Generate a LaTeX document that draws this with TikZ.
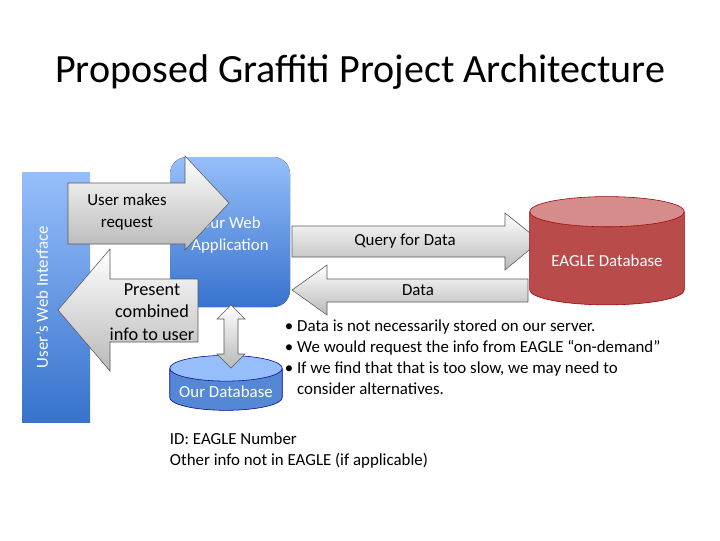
\documentclass[tikz,border=0pt]{standalone}
\usepackage{fontspec}
\setmainfont{Carlito}
\usetikzlibrary{shapes.geometric}
\definecolor{blutop}{RGB}{150,190,250}
\definecolor{blubot}{RGB}{55,115,205}
\definecolor{redtop}{RGB}{215,140,140}
\definecolor{redbot}{RGB}{185,75,75}
\tikzset{
  blubox/.style={top color=blutop, bottom color=blubot, draw=none},
  grayarrow/.style={draw=gray!70!black, top color=white, bottom color=gray!55},
  txt/.style={font=\fontsize{12}{15}\selectfont, align=center},
  cyl/.style={cylinder, shape border rotate=90, aspect=0.25, draw, minimum width=#1},
}
\begin{document}
\begin{tikzpicture}[x=0.025cm,y=-0.025cm]
\useasboundingbox (0,0) rectangle (720,540);
\node (title) at (360,72) {\fontsize{28.5}{32}\selectfont Proposed Graffiti Project Architecture};
% user interface
\fill[blubox] (22,172) rectangle (90,422);
\node[rotate=90, text=white, txt] (ui) at (42,297) {User's Web Interface};
% web application
\fill[blubox, rounded corners=12] (170,157) rectangle (290,307);
\node[text=white, txt] (app) at (230,235) {Our Web\\Application};
% request / present arrows
\draw[grayarrow] (68,183)--(185,183)--(185,156)--(229,203)--(185,250)--(185,244)--(68,244)--cycle;
\node[txt] (req) at (127,212) {User makes\\request};
\draw[grayarrow] (198,279)--(110,279)--(110,249)--(58,310)--(110,371)--(110,342)--(198,342)--cycle;
\node[txt, font=\fontsize{13}{16}\selectfont] (pres) at (152,312) {Present\\combined\\info to user};
% query / data arrows
\draw[grayarrow] (292,226)--(505,226)--(505,213)--(540,241)--(505,270)--(505,257)--(292,257)--cycle;
\node[txt] (query) at (405,241) {Query for Data};
\draw[grayarrow] (528,279)--(327,279)--(327,265)--(292,290)--(327,315)--(327,302)--(528,302)--cycle;
\node[txt] (data) at (418,290) {Data};
% databases
\node[cyl=110pt, minimum height=77pt, draw=red!60!black, cylinder uses custom fill, cylinder body fill=redbot, cylinder end fill=redtop, text=white, txt] (eagle) at (607,261) {\raisebox{-6pt}{EAGLE Database}};
\node[cyl=80pt, minimum height=39pt, draw=blue!60!black, cylinder uses custom fill, cylinder body fill=blubot!85!white, cylinder end fill=blutop, text=white, txt] (db) at (226,392) {\raisebox{-6pt}{Our Database}};
% double arrow
\draw[grayarrow] (231,305)--(245,319)--(238,319)--(238,354)--(245,354)--(231,368)--(217,354)--(224,354)--(224,319)--(217,319)--cycle;
% notes
\node[txt, align=left, anchor=north west] (notes) at (280,315) {%
\textbullet\ Data is not necessarily stored on our server.\\
\textbullet\ We would request the info from EAGLE ``on-demand''\\
\textbullet\ If we find that that is too slow, we may need to\\
\phantom{\textbullet\ }consider alternatives.};
\node[txt, align=left, anchor=north west] (ids) at (165,428) {ID: EAGLE Number\\Other info not in EAGLE (if applicable)};
\end{tikzpicture}
\end{document}
